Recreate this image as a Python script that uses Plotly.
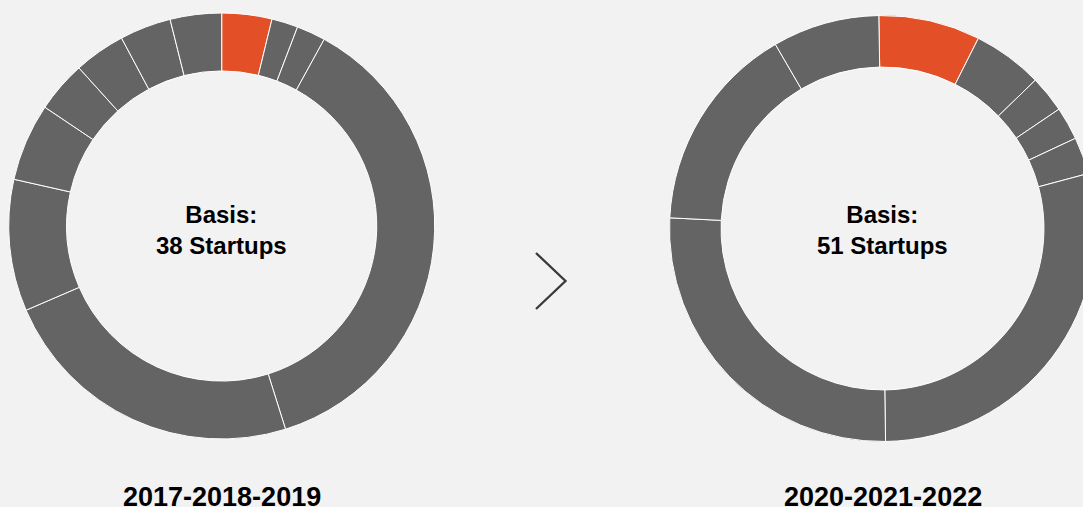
import plotly.graph_objects as go

# Data (shares of each segment; first slice highlighted)
left_labels = [f"Segment {i+1}" for i in range(11)]
left_values = [3.8, 2.0, 2.2, 37.2, 23.4, 10.0, 5.9, 3.9, 3.9, 3.9, 3.9]
right_labels = [f"Segment {i+1}" for i in range(9)]
right_values = [7.7, 5.3, 2.8, 2.5, 2.8, 28.9, 26.0, 15.8, 8.1]
period_labels = ["2017-2018-2019", "2020-2021-2022"]
basis_counts = [38, 51]

W, H = 1100, 507
BG = "#f2f2f2"
GRAY = "#646464"
ORANGE = "#e35027"
FONT = "Liberation Sans, Arial, Helvetica, sans-serif"

def px_x(x):
    return x / W

def px_y(y):
    return (H - y) / H

def domain(cx, cy, r):
    return dict(x=[px_x(cx - r), px_x(cx + r)], y=[px_y(cy + r), px_y(cy - r)])

centers = [(221.7, 226.0, 213.0), (882.5, 228.5, 213.0)]
holes = [0.728, 0.758]
rotations = [0, -1]

fig = go.Figure()
for (labels, values), (cx, cy, r), hole, rot in zip(
    [(left_labels, left_values), (right_labels, right_values)], centers, holes, rotations
):
    colors = [ORANGE] + [GRAY] * (len(values) - 1)
    fig.add_trace(go.Pie(
        labels=labels, values=values, sort=False, direction="clockwise",
        rotation=rot, hole=hole, domain=domain(cx, cy, r),
        marker=dict(colors=colors, line=dict(color="white", width=1)),
        textinfo="none", hoverinfo="label+percent", showlegend=False,
    ))

annotations = []
for (cx, cy, r), n, period in zip(centers, basis_counts, period_labels):
    annotations.append(dict(
        x=px_x(cx), y=px_y(229.5), xref="paper", yref="paper",
        text=f"Basis:<br>{n} Startups", showarrow=False,
        font=dict(family=FONT, size=24, color="#000000", weight="bold"),
        xanchor="center", yanchor="middle", align="center",
    ))
    annotations.append(dict(
        x=px_x(cx), y=px_y(496.5), xref="paper", yref="paper",
        text=period, showarrow=False,
        font=dict(family=FONT, size=27, color="#000000", weight="bold"),
        xanchor="center", yanchor="middle",
    ))

arrow_path = "M {:.5f},{:.5f} L {:.5f},{:.5f} L {:.5f},{:.5f}".format(
    px_x(536), px_y(253), px_x(565.5), px_y(281), px_x(536), px_y(309))

fig.update_layout(
    width=W, height=H,
    margin=dict(l=0, r=0, t=0, b=0),
    paper_bgcolor=BG, plot_bgcolor=BG,
    annotations=annotations,
    shapes=[dict(type="path", xref="paper", yref="paper", path=arrow_path,
                 line=dict(color="#3a3a3a", width=2.3))],
)

fig.write_html("out.html", post_script="document.body.style.overflow='hidden';document.body.style.margin='0';")
